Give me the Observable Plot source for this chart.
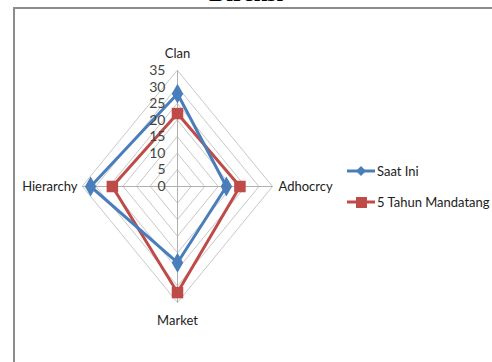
<!DOCTYPE html>
<html><head><meta charset="utf-8">
<script src="https://cdn.jsdelivr.net/npm/d3@7"></script>
<script src="https://cdn.jsdelivr.net/npm/@observablehq/plot@0.6"></script>
<style>
body{margin:0;background:#fff;width:492px;height:362px;overflow:hidden;position:relative;font-family:Lato,"Open Sans",sans-serif;}
#frame{position:absolute;left:13px;top:7px;width:520px;height:400px;border-left:2px solid #8c8c8c;border-top:2px solid #8c8c8c;}
#title{position:absolute;left:0;width:492px;top:-20px;text-align:center;font:bold 24px "Liberation Serif",serif;color:#000;}
#chart{position:absolute;left:0;top:0}
.leg{position:absolute;font-size:13px;color:#222;display:flex;align-items:center}
</style></head><body>
<div id="frame"></div>
<div id="title">Direksi</div>
<div id="chart"></div>
<div class="leg" style="left:346px;top:162px"><svg width="30" height="18"><line x1="1" y1="9" x2="29" y2="9" stroke="#4a7ebb" stroke-width="3"/><path d="M15 4 L20 9 L15 14 L10 9Z" fill="#4a7ebb"/></svg><span style="margin-left:1px">Saat Ini</span></div>
<div class="leg" style="left:346px;top:193px"><svg width="30" height="18"><line x1="1" y1="9" x2="29" y2="9" stroke="#be4b48" stroke-width="3"/><rect x="10" y="4" width="11" height="11" fill="#be4b48"/></svg><span style="margin-left:1px">5 Tahun Mandatang</span></div>
<script>
const axes = ["Clan","Adhocrcy","Market","Hierarchy"];
const dirs = [[0,1],[1,0],[0,-1],[-1,0]];
const saatIni = [28, 18, 23, 32];
const limaTahun = [22, 23, 32, 24];
const levels = [5,10,15,20,25,30,35];
const tickLabels = ["0","5","10","15","20","25","30","35"];
const maxV = 35;

const rings = levels.flatMap(l => dirs.map((d,i)=>({level:l, x:d[0]*l, y:d[1]*l, i})));
const spokes = dirs.map((d,i)=>({x1:0,y1:0,x2:d[0]*maxV,y2:d[1]*maxV}));
const toPts = (vals, name) => vals.map((v,i)=>({series:name, axis:axes[i], x:dirs[i][0]*v, y:dirs[i][1]*v}));
const blue = toPts(saatIni, "Saat Ini");
const red = toPts(limaTahun, "5 Tahun Mandatang");
const ticks = tickLabels.map(t=>({t, v:+t}));
const labels = axes.map((a,i)=>({a, x:dirs[i][0]*maxV, y:dirs[i][1]*maxV, i}));

const plot = Plot.plot({
  width:492, height:362,
  marginLeft:82, marginRight:220, marginTop:70, marginBottom:60,
  x:{domain:[-35,35], axis:null},
  y:{domain:[-35,35], axis:null},
  style:{fontFamily:"Lato, 'Open Sans', sans-serif", background:"transparent", overflow:"visible"},
  marks:[
    Plot.line(rings, {x:"x", y:"y", z:"level", curve:"linear-closed", stroke:"#c8c8c8", strokeWidth:1}),
    Plot.link(spokes, {x1:"x1", y1:"y1", x2:"x2", y2:"y2", stroke:"#b0b0b0", strokeWidth:1}),
    Plot.line(red, {x:"x", y:"y", curve:"linear-closed", stroke:"#be4b48", strokeWidth:3}),
    Plot.line(blue, {x:"x", y:"y", curve:"linear-closed", stroke:"#4a7ebb", strokeWidth:3}),
    Plot.dot(red, {x:"x", y:"y", symbol:"square", r:6.5, fill:"#be4b48"}),
    Plot.dot(blue, {x:"x", y:"y", symbol:"diamond", r:6, fill:"#4a7ebb"}),
    Plot.text(ticks, {x:0, y:"v", text:"t", dx:-12, textAnchor:"end", fontSize:14, fill:"#444"}),
    Plot.text(labels.filter(d=>d.i===0), {x:"x", y:"y", text:"a", dy:-17, fontSize:13, fill:"#222"}),
    Plot.text(labels.filter(d=>d.i===2), {x:"x", y:"y", text:"a", dy:18, fontSize:13, fill:"#222"}),
    Plot.text(labels.filter(d=>d.i===1), {x:"x", y:"y", text:"a", dx:6, textAnchor:"start", fontSize:13, fill:"#222"}),
    Plot.text(labels.filter(d=>d.i===3), {x:"x", y:"y", text:"a", dx:-5, textAnchor:"end", fontSize:13, fill:"#222"})
  ]
});
document.getElementById("chart").appendChild(plot);
</script>
</body></html>
